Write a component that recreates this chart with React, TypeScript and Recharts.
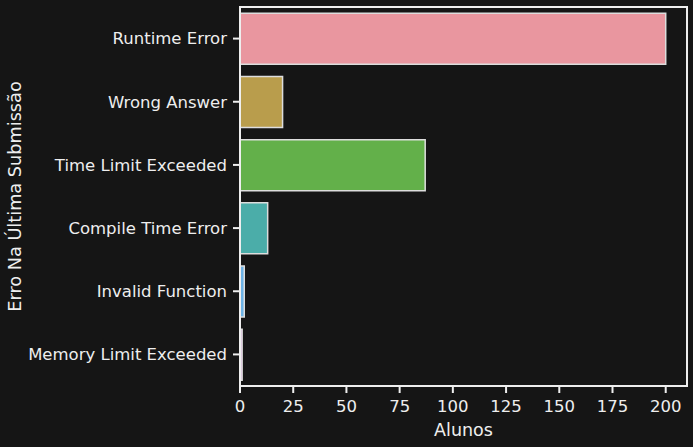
import { BarChart, Bar, XAxis, YAxis, Cell, ReferenceArea } from 'recharts';

// error categories, in the order they appear top to bottom
const ERRORS = [
  'Runtime Error',
  'Wrong Answer',
  'Time Limit Exceeded',
  'Compile Time Error',
  'Invalid Function',
  'Memory Limit Exceeded',
];
const STUDENTS = [200, 20, 87, 13, 2, 1];
const X_TICKS = [0, 25, 50, 75, 100, 125, 150, 175, 200];

// seaborn husl, desaturated
const BAR_COLORS = ['#E9969F', '#B99D4C', '#63B04A', '#4BADA9', '#6CB2E6', '#D9A8DE'];

const BG = '#151515';
const FG = '#EEEEEE';
const FONT = 'DejaVu Sans, sans-serif';

const data = ERRORS.map((name, i) => ({ name, alunos: STUDENTS[i] }));

export default function App() {
  return (
    <div style={{ position: 'absolute', left: 0, top: 0, width: 693, height: 447, background: BG, fontFamily: FONT }}>
      <BarChart
        width={693}
        height={447}
        data={data}
        layout="vertical"
        margin={{ top: 7, right: 6, bottom: 0, left: 0 }}
        barCategoryGap="10%"
      >
        <XAxis
          type="number"
          domain={[0, 210]}
          ticks={X_TICKS}
          interval={0}
          stroke={FG}
          strokeWidth={2}
          tickSize={7}
          tick={{ fill: FG, fontSize: 16.5, fontFamily: FONT }}
          tickMargin={7}
          label={{ value: 'Alunos', position: 'insideBottom', offset: 11, fill: FG, fontSize: 17.5, fontFamily: FONT }}
          height={61}
        />
        <YAxis
          type="category"
          dataKey="name"
          width={240}
          stroke={FG}
          strokeWidth={2}
          tickSize={7}
          tickMargin={6}
          interval={0}
          tick={{ fill: FG, fontSize: 16.5, fontFamily: FONT }}
          label={{
            value: 'Erro Na Última Submissão',
            angle: -90,
            position: 'insideLeft',
            offset: 0,
            dx: 15,
            fill: FG,
            fontSize: 17.7,
            fontFamily: FONT,
            style: { textAnchor: 'middle' },
          }}
        />
        <Bar dataKey="alunos" stroke="#DDDDDD" strokeWidth={1.5} isAnimationActive={false}>
          {data.map((d, i) => (
            <Cell key={d.name} fill={BAR_COLORS[i]} />
          ))}
        </Bar>
        <ReferenceArea x1={0} x2={210} fill="none" stroke={FG} strokeWidth={2} ifOverflow="extendDomain" />
      </BarChart>
    </div>
  );
}
